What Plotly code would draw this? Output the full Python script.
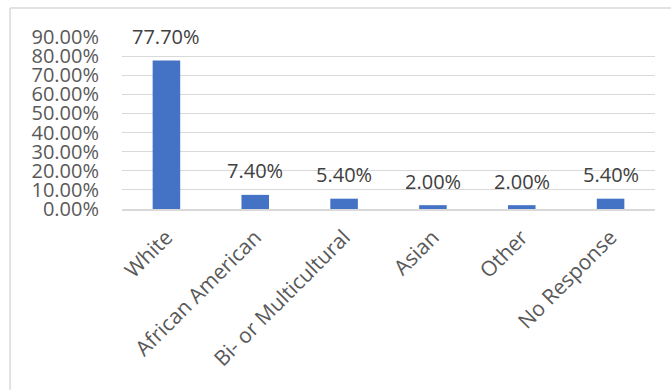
import plotly.graph_objects as go

categories = ["White", "African American", "Bi- or Multicultural", "Asian", "Other", "No Response"]
values = [77.70, 7.40, 5.40, 2.00, 2.00, 5.40]
labels = ["77.70%", "7.40%", "5.40%", "2.00%", "2.00%", "5.40%"]
yticks = [0, 10, 20, 30, 40, 50, 60, 70, 80, 90]
ytick_text = ["%.2f%%" % v for v in yticks]

FONT = "Open Sans"

fig = go.Figure()
fig.add_trace(go.Bar(x=categories, y=values, marker=dict(color="#4472C4", line=dict(width=0)),
                     hoverinfo="skip"))

for c, v, t in zip(categories, values, labels):
    fig.add_annotation(x=c, y=v, text=t, showarrow=False, yanchor="middle", yshift=24,
                       font=dict(family=FONT, size=20, color="#404040"))

# chart area border (only top and left edges visible in the crop)
fig.add_shape(type="line", xref="paper", yref="paper", x0=-0.21, x1=1.1, y0=1.168, y1=1.168,
              line=dict(color="#d9d9d9", width=1.5))
fig.add_shape(type="line", xref="paper", yref="paper", x0=-0.21, x1=-0.21, y0=1.168, y1=-1.2,
              line=dict(color="#d9d9d9", width=1.5))

fig.update_layout(
    width=671, height=390,
    margin=dict(l=122, r=16, t=37, b=181),
    paper_bgcolor="white", plot_bgcolor="white",
    bargap=0.69,
    showlegend=False,
    font=dict(family=FONT, size=20, color="#595959"),
    xaxis=dict(tickangle=-45, showline=True, linecolor="#d9d9d9", linewidth=1.5,
               ticks="", ticklabelstandoff=6,
               tickfont=dict(family=FONT, size=21, color="#595959")),
    yaxis=dict(range=[0, 90], tickvals=yticks, ticktext=ytick_text, showgrid=True,
               gridcolor="#d9d9d9", gridwidth=1, zeroline=False, showline=False,
               ticks="", ticklabelstandoff=22,
               tickfont=dict(family=FONT, size=20, color="#595959")),
)

fig.write_html("out.html")
